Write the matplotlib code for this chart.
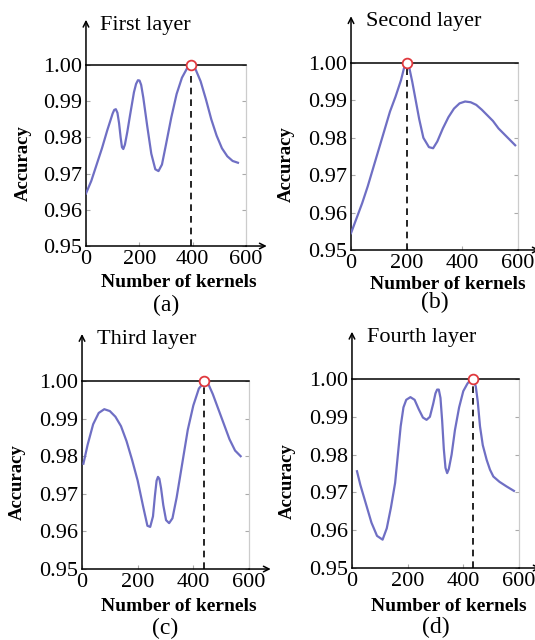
import matplotlib
matplotlib.use("Agg")
import matplotlib.pyplot as plt

# Accuracy versus number of kernels, one curve per layer
x_first = [0, 20, 40, 60, 80, 100, 106, 112, 118, 124, 130, 135, 140, 146, 155, 165, 180,
           188, 195, 201, 207, 215, 230, 245, 260, 272, 285, 300, 320, 340, 360, 380, 395,
           410, 430, 450, 470, 490, 510, 530, 550, 570]
acc_first = [0.9645, 0.968, 0.9725, 0.977, 0.982, 0.9866, 0.9876, 0.9878, 0.9868, 0.984,
             0.980, 0.9773, 0.9768, 0.978, 0.9815, 0.986, 0.9925, 0.9948, 0.9958, 0.9957,
             0.9945, 0.991, 0.983, 0.9755, 0.9712, 0.9707, 0.9725, 0.978, 0.9855, 0.992,
             0.9965, 0.9992, 1.000, 0.999, 0.9955, 0.9905, 0.985, 0.9805, 0.977, 0.9748,
             0.9735, 0.973]

x_second = [0, 20, 40, 60, 80, 100, 120, 140, 160, 180, 190, 200, 210, 220, 230, 245, 260,
            280, 295, 310, 330, 350, 370, 390, 410, 430, 450, 470, 490, 510, 530, 550, 570,
            590]
acc_second = [0.9545, 0.9585, 0.9625, 0.967, 0.972, 0.977, 0.982, 0.987, 0.991, 0.9955,
              0.9985, 1.000, 0.9985, 0.995, 0.991, 0.985, 0.980, 0.9775, 0.9772, 0.979,
              0.9825, 0.9855, 0.9878, 0.9892, 0.9897, 0.9895, 0.9888, 0.9875, 0.986,
              0.9845, 0.9825, 0.981, 0.9795, 0.978]

x_third = [5, 20, 40, 60, 80, 100, 120, 140, 160, 180, 200, 220, 235, 245, 255, 262, 268,
           273, 278, 284, 292, 302, 313, 325, 340, 360, 380, 400, 420, 440, 455, 470, 490,
           510, 530, 550, 570]
acc_third = [0.978, 0.983, 0.9885, 0.9915, 0.9925, 0.992, 0.9905, 0.988, 0.984, 0.979,
             0.9735, 0.9665, 0.9615, 0.9612, 0.964, 0.9695, 0.9735, 0.9745, 0.974, 0.9715,
             0.967, 0.963, 0.9622, 0.9635, 0.969, 0.978, 0.987, 0.9935, 0.998, 0.9998,
             0.999, 0.9965, 0.9925, 0.9885, 0.9845, 0.9815, 0.980]

x_fourth = [18, 30, 50, 70, 90, 110, 125, 140, 155, 165, 175, 185, 195, 210, 225, 240, 255,
            268, 280, 292, 300, 306, 312, 318, 324, 330, 336, 342, 348, 358, 370, 385, 400,
            415, 425, 435, 445, 452, 460, 470, 484, 496, 508, 530, 555, 582]
acc_fourth = [0.9756, 0.972, 0.967, 0.962, 0.9585, 0.9575, 0.9605, 0.966, 0.9725, 0.980,
              0.9875, 0.9925, 0.9945, 0.9952, 0.9945, 0.992, 0.9898, 0.9892, 0.990, 0.9935,
              0.9962, 0.9972, 0.9972, 0.995, 0.989, 0.9815, 0.9765, 0.9751, 0.9762, 0.980,
              0.9865, 0.9925, 0.9968, 0.9988, 0.9997, 1.000, 0.998, 0.994, 0.9875, 0.9825,
              0.9786, 0.976, 0.9742, 0.9728, 0.9716, 0.9704]

titles = ["First layer", "Second layer", "Third layer", "Fourth layer"]
panel_tags = ["(a)", "(b)", "(c)", "(d)"]
best_kernels = [395, 200, 440, 435]
x_ticks = [0, 200, 400, 600]
y_ticks = [0.95, 0.96, 0.97, 0.98, 0.99, 1.00]

plt.rcParams['font.family'] = ['Liberation Serif', 'DejaVu Serif']

fig = plt.figure(figsize=(5.35, 6.4), dpi=100)
fig.patch.set_facecolor('white')

# axes boxes [left, bottom, width, height] in figure fractions
boxes = [[0.1607, 0.6156, 0.299, 0.2828],
         [0.6561, 0.6094, 0.3121, 0.2922],
         [0.1533, 0.1109, 0.3121, 0.2938],
         [0.6579, 0.1125, 0.3121, 0.2953]]
tag_y = [-0.326, -0.28, -0.314, -0.317]
xlab_y = [-0.204, -0.185, -0.197, -0.206]

curves = [(x_first, acc_first), (x_second, acc_second),
          (x_third, acc_third), (x_fourth, acc_fourth)]

for i, (xs, ys) in enumerate(curves):
    ax = fig.add_axes(boxes[i])
    ax.plot(xs, ys, color='#6f6fc4', lw=1.6, zorder=3, solid_joinstyle='round')
    ax.vlines(best_kernels[i], 0.95, 1.0, colors='k', linestyles=(0, (4, 3)), lw=1.2, zorder=2)
    ax.plot(best_kernels[i], 1.0, 'o', mfc='white', mec='#e0393e', ms=7, mew=1.3,
            clip_on=False, zorder=5)

    ax.set_xlim(0, 600)
    ax.set_ylim(0.95, 1.0)
    ax.set_xticks(x_ticks)
    ax.set_yticks(y_ticks)
    ax.set_yticklabels(['%.2f' % v for v in y_ticks])
    ax.tick_params(direction='in', length=3, width=0.8, color='#aaaaaa', right=True,
                   labelsize=16, pad=3)

    for s in ['left', 'bottom', 'top']:
        ax.spines[s].set_color('k')
        ax.spines[s].set_linewidth(1.1)
    ax.spines['right'].set_color('#cccccc')
    ax.spines['right'].set_linewidth(0.9)

    # arrow heads on the axes
    ax.annotate('', xy=(0, 1.25), xytext=(0, 1.0), xycoords='axes fraction',
                arrowprops=dict(arrowstyle='->', lw=1.1, color='k', shrinkA=0, shrinkB=0),
                annotation_clip=False)
    ax.annotate('', xy=(1.13, 0), xytext=(1.0, 0), xycoords='axes fraction',
                arrowprops=dict(arrowstyle='->', lw=1.1, color='k', shrinkA=0, shrinkB=0),
                annotation_clip=False)

    ax.text(0.09, 1.22, titles[i], transform=ax.transAxes, fontsize=16,
            ha='left', va='center')
    ax.text(0.58, xlab_y[i], 'Number of kernels', transform=ax.transAxes, fontsize=14,
            weight='bold', ha='center', va='center')
    ax.text(-0.39, 0.46, 'Accuracy', transform=ax.transAxes, fontsize=13.5,
            weight='bold', ha='center', va='center', rotation=90)
    ax.text(0.5, tag_y[i], panel_tags[i], transform=ax.transAxes, fontsize=17,
            ha='center', va='center')

plt.savefig("out.png", dpi=100)
